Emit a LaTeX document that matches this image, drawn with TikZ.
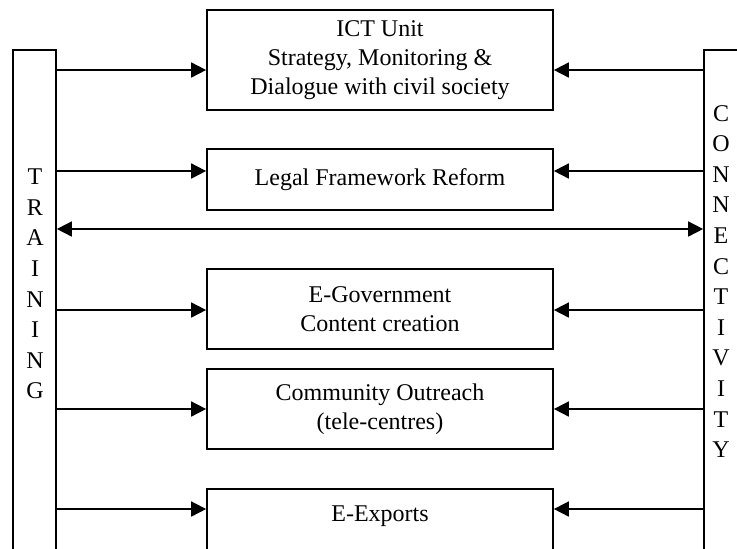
\documentclass[tikz,border=0pt]{standalone}
\usepackage{fontspec}
\setmainfont{Liberation Serif}
\usetikzlibrary{arrows.meta}
\begin{document}
\begin{tikzpicture}[x=0.5pt,y=-0.5pt,
  line width=0.85pt,
  box/.style={draw,rectangle,minimum width=173pt,inner sep=0pt,align=center,
    font=\fontsize{12}{14.5}\selectfont},
  bar/.style={draw,rectangle,minimum width=21.5pt,minimum height=255pt,inner sep=0pt},
  letters/.style={align=center,inner sep=0pt,font=\fontsize{12}{15.3}\selectfont},
  arr/.style={-{Triangle[length=7.5pt,width=7.5pt]}},
  darr/.style={{Triangle[length=7.5pt,width=7.5pt]}-{Triangle[length=7.5pt,width=7.5pt]}}]
\useasboundingbox (0,0) rectangle (737,548);
\clip (0,0) rectangle (737,548);
% bars
\node[bar] (train) at (34.5,305) {};
\node[bar,minimum width=33pt] (conn) at (737,305) {};
\node[letters] (trainlbl) at (35,284) {T\\R\\A\\I\\N\\I\\N\\G};
\node[letters] (connlbl) at (721,281.5) {C\\O\\N\\N\\E\\C\\T\\I\\V\\I\\T\\Y};
% boxes
\node[box,minimum height=50pt] (b1) at (380,60) {ICT Unit\\Strategy, Monitoring \&\\Dialogue with civil society};
\node[box,minimum height=30.5pt] (b2) at (380,179.5) {Legal Framework Reform};
\node[box,minimum height=40pt] (b3) at (380,309) {E-Government\\Content creation};
\node[box,minimum height=40pt] (b4) at (380,409) {Community Outreach\\(tele-centres)};
\node[box,minimum height=40pt,text depth=0pt] (b5) at (380,529) {};
\node[font=\fontsize{12}{14.5}\selectfont,inner sep=0pt] (b5t) at (380,516) {E-Exports};
% anchor points
\coordinate (l1) at ([yshift=-5pt]b1.west);
\coordinate (r1) at ([yshift=-5pt]b1.east);
\coordinate (l2) at ([yshift=4.25pt]b2.west);
\coordinate (r2) at ([yshift=4.25pt]b2.east);
\coordinate (l3) at ([yshift=-0.5pt]b3.west);
\coordinate (r3) at ([yshift=-0.5pt]b3.east);
\coordinate (l4) at (b4.west);
\coordinate (r4) at (b4.east);
\coordinate (l5) at ([yshift=10pt]b5.west);
\coordinate (r5) at ([yshift=10pt]b5.east);
\coordinate (mid) at (380,229);
% connectors
\foreach \i in {1,...,5}{
  \draw[arr] (train.east |- l\i) -- (l\i);
  \draw[arr] (conn.west |- r\i) -- (r\i);
}
\draw[darr] (train.east |- mid) -- (conn.west |- mid);
\end{tikzpicture}
\end{document}
